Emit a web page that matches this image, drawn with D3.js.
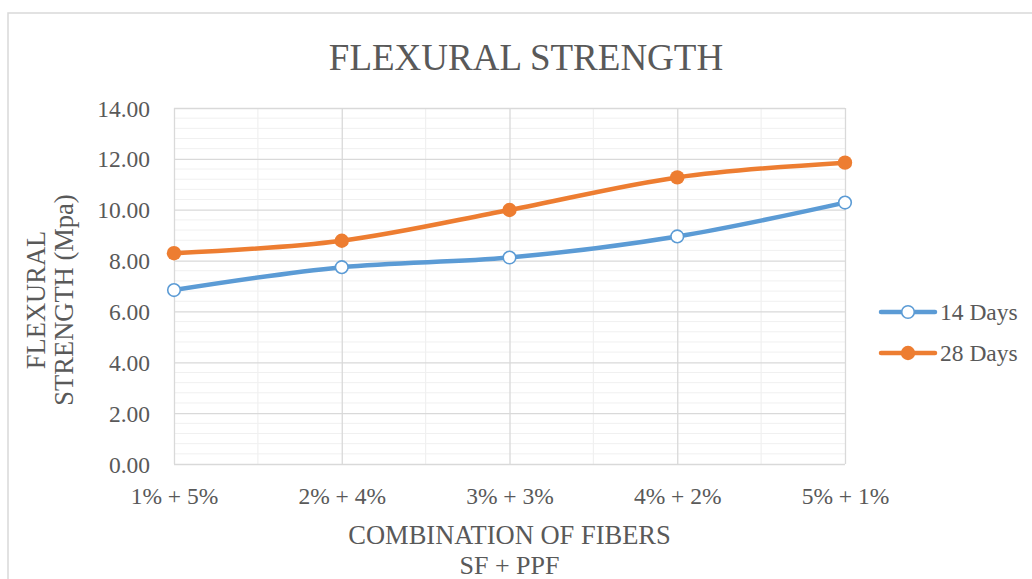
<!DOCTYPE html>
<html><head><meta charset="utf-8">
<script src="https://cdn.jsdelivr.net/npm/d3@7"></script>
<style>body{margin:0;background:#fff}svg{display:block}text{font-family:"Liberation Serif","Times New Roman",Tinos,serif;fill:#595959}</style>
</head><body>
<svg id="c" width="1032" height="579"></svg>
<script>
const categories = ["1% + 5%", "2% + 4%", "3% + 3%", "4% + 2%", "5% + 1%"];
const days14 = [6.84, 7.74, 8.12, 8.95, 10.28];
const days28 = [8.29, 8.78, 9.99, 11.27, 11.85];
const seriesNames = ["14 Days", "28 Days"];
const yTicks = [0, 2, 4, 6, 8, 10, 12, 14];

const svg = d3.select("#c");
const m = {left: 174, right: 845, top: 108, bottom: 464};
const serif = '"Liberation Serif","Times New Roman",serif';

svg.append("rect").attr("x", 8).attr("y", 13).attr("width", 1040).attr("height", 600)
  .attr("fill", "#fff").attr("stroke", "#d9d9d9").attr("stroke-width", 1.5);

const x = d3.scalePoint().domain(categories).range([m.left, m.right]);
const y = d3.scaleLinear().domain([0, 14]).range([m.bottom, m.top]);

// minor horizontal gridlines
const minor = d3.range(0, 14.0001, 0.4).filter(v => Math.abs(v/2 - Math.round(v/2)) > 1e-6);
svg.append("g").selectAll("line").data(minor).join("line")
  .attr("x1", m.left).attr("x2", m.right).attr("y1", d => y(d)).attr("y2", d => y(d))
  .attr("stroke", "#f0f0f0").attr("stroke-width", 1);
// minor vertical gridlines (midpoints)
const step = x.step();
svg.append("g").selectAll("line").data(categories.slice(0, -1)).join("line")
  .attr("x1", d => x(d) + step/2).attr("x2", d => x(d) + step/2)
  .attr("y1", m.top).attr("y2", m.bottom)
  .attr("stroke", "#f0f0f0").attr("stroke-width", 1.2);

// major gridlines + axes
const yAxis = d3.axisLeft(y).tickValues(yTicks).tickSize(-(m.right - m.left)).tickFormat(d3.format(".2f")).tickPadding(24);
const gy = svg.append("g").attr("transform", `translate(${m.left},0)`).call(yAxis)
  .attr("font-family", serif);
gy.select(".domain").remove();
gy.selectAll("line").attr("stroke", "#d9d9d9").attr("stroke-width", 1.3);
gy.selectAll("text").style("font-size", "23.5px").attr("fill", "#595959")
  .style("font-family", serif).attr("dy", "0.34em");

const xAxis = d3.axisBottom(x).tickSize(-(m.bottom - m.top)).tickPadding(23);
const gx = svg.append("g").attr("transform", `translate(0,${m.bottom})`).call(xAxis)
  .attr("font-family", serif);
gx.select(".domain").remove();
gx.selectAll("line").attr("stroke", "#d9d9d9").attr("stroke-width", 1.3);
gx.selectAll("text").style("font-size", "23.5px").attr("fill", "#595959")
  .style("font-family", serif).attr("dy", "0.71em");

// lines
const colors = ["#5B9BD5", "#ED7D31"];
const data = [days14, days28];
const line = d3.line().x((d, i) => x(categories[i])).y(d => y(d)).curve(d3.curveCatmullRom.alpha(0));
data.forEach((s, k) => {
  svg.append("path").datum(s).attr("d", line).attr("fill", "none")
    .attr("stroke", colors[k]).attr("stroke-width", 4.5).attr("stroke-linecap", "round");
});
// markers
function marker(g, cx, cy, k) {
  if (k === 0) {
    g.append("circle").attr("cx", cx).attr("cy", cy).attr("r", 6.3)
      .attr("fill", "#fff").attr("stroke", colors[0]).attr("stroke-width", 1.6);
  } else {
    g.append("circle").attr("cx", cx).attr("cy", cy).attr("r", 7.2).attr("fill", colors[1]);
  }
}
const gm = svg.append("g");
data.forEach((s, k) => s.forEach((v, i) => marker(gm, x(categories[i]), y(v), k)));

// title
svg.append("text").attr("x", 526).attr("y", 70).attr("text-anchor", "middle")
  .style("font-size", "37px").text("FLEXURAL STRENGTH");

// x axis title
const cx = (m.left + m.right) / 2;
svg.append("text").attr("x", cx).attr("y", 544).attr("text-anchor", "middle")
  .style("font-size", "26.5px").text("COMBINATION OF FIBERS");
svg.append("text").attr("x", cx).attr("y", 574).attr("text-anchor", "middle")
  .style("font-size", "26px").text("SF + PPF");

// y axis title
const yt = svg.append("text").attr("transform", "translate(0,300) rotate(-90)").attr("text-anchor", "middle")
  .style("font-size", "26.5px");
yt.append("tspan").attr("x", 0).attr("y", 45).text("FLEXURAL");
yt.append("tspan").attr("x", 0).attr("y", 73).text("STRENGTH (Mpa)");

// legend
const lg = svg.append("g");
seriesNames.forEach((n, k) => {
  const ly = 312 + k * 41;
  lg.append("line").attr("x1", 881).attr("x2", 935).attr("y1", ly).attr("y2", ly)
    .attr("stroke", colors[k]).attr("stroke-width", 4.5).attr("stroke-linecap", "round");
  marker(lg, 908, ly, k);
  lg.append("text").attr("x", 940).attr("y", ly).attr("dy", "0.34em")
    .style("font-size", "23.5px").text(n);
});
</script>
</body></html>
